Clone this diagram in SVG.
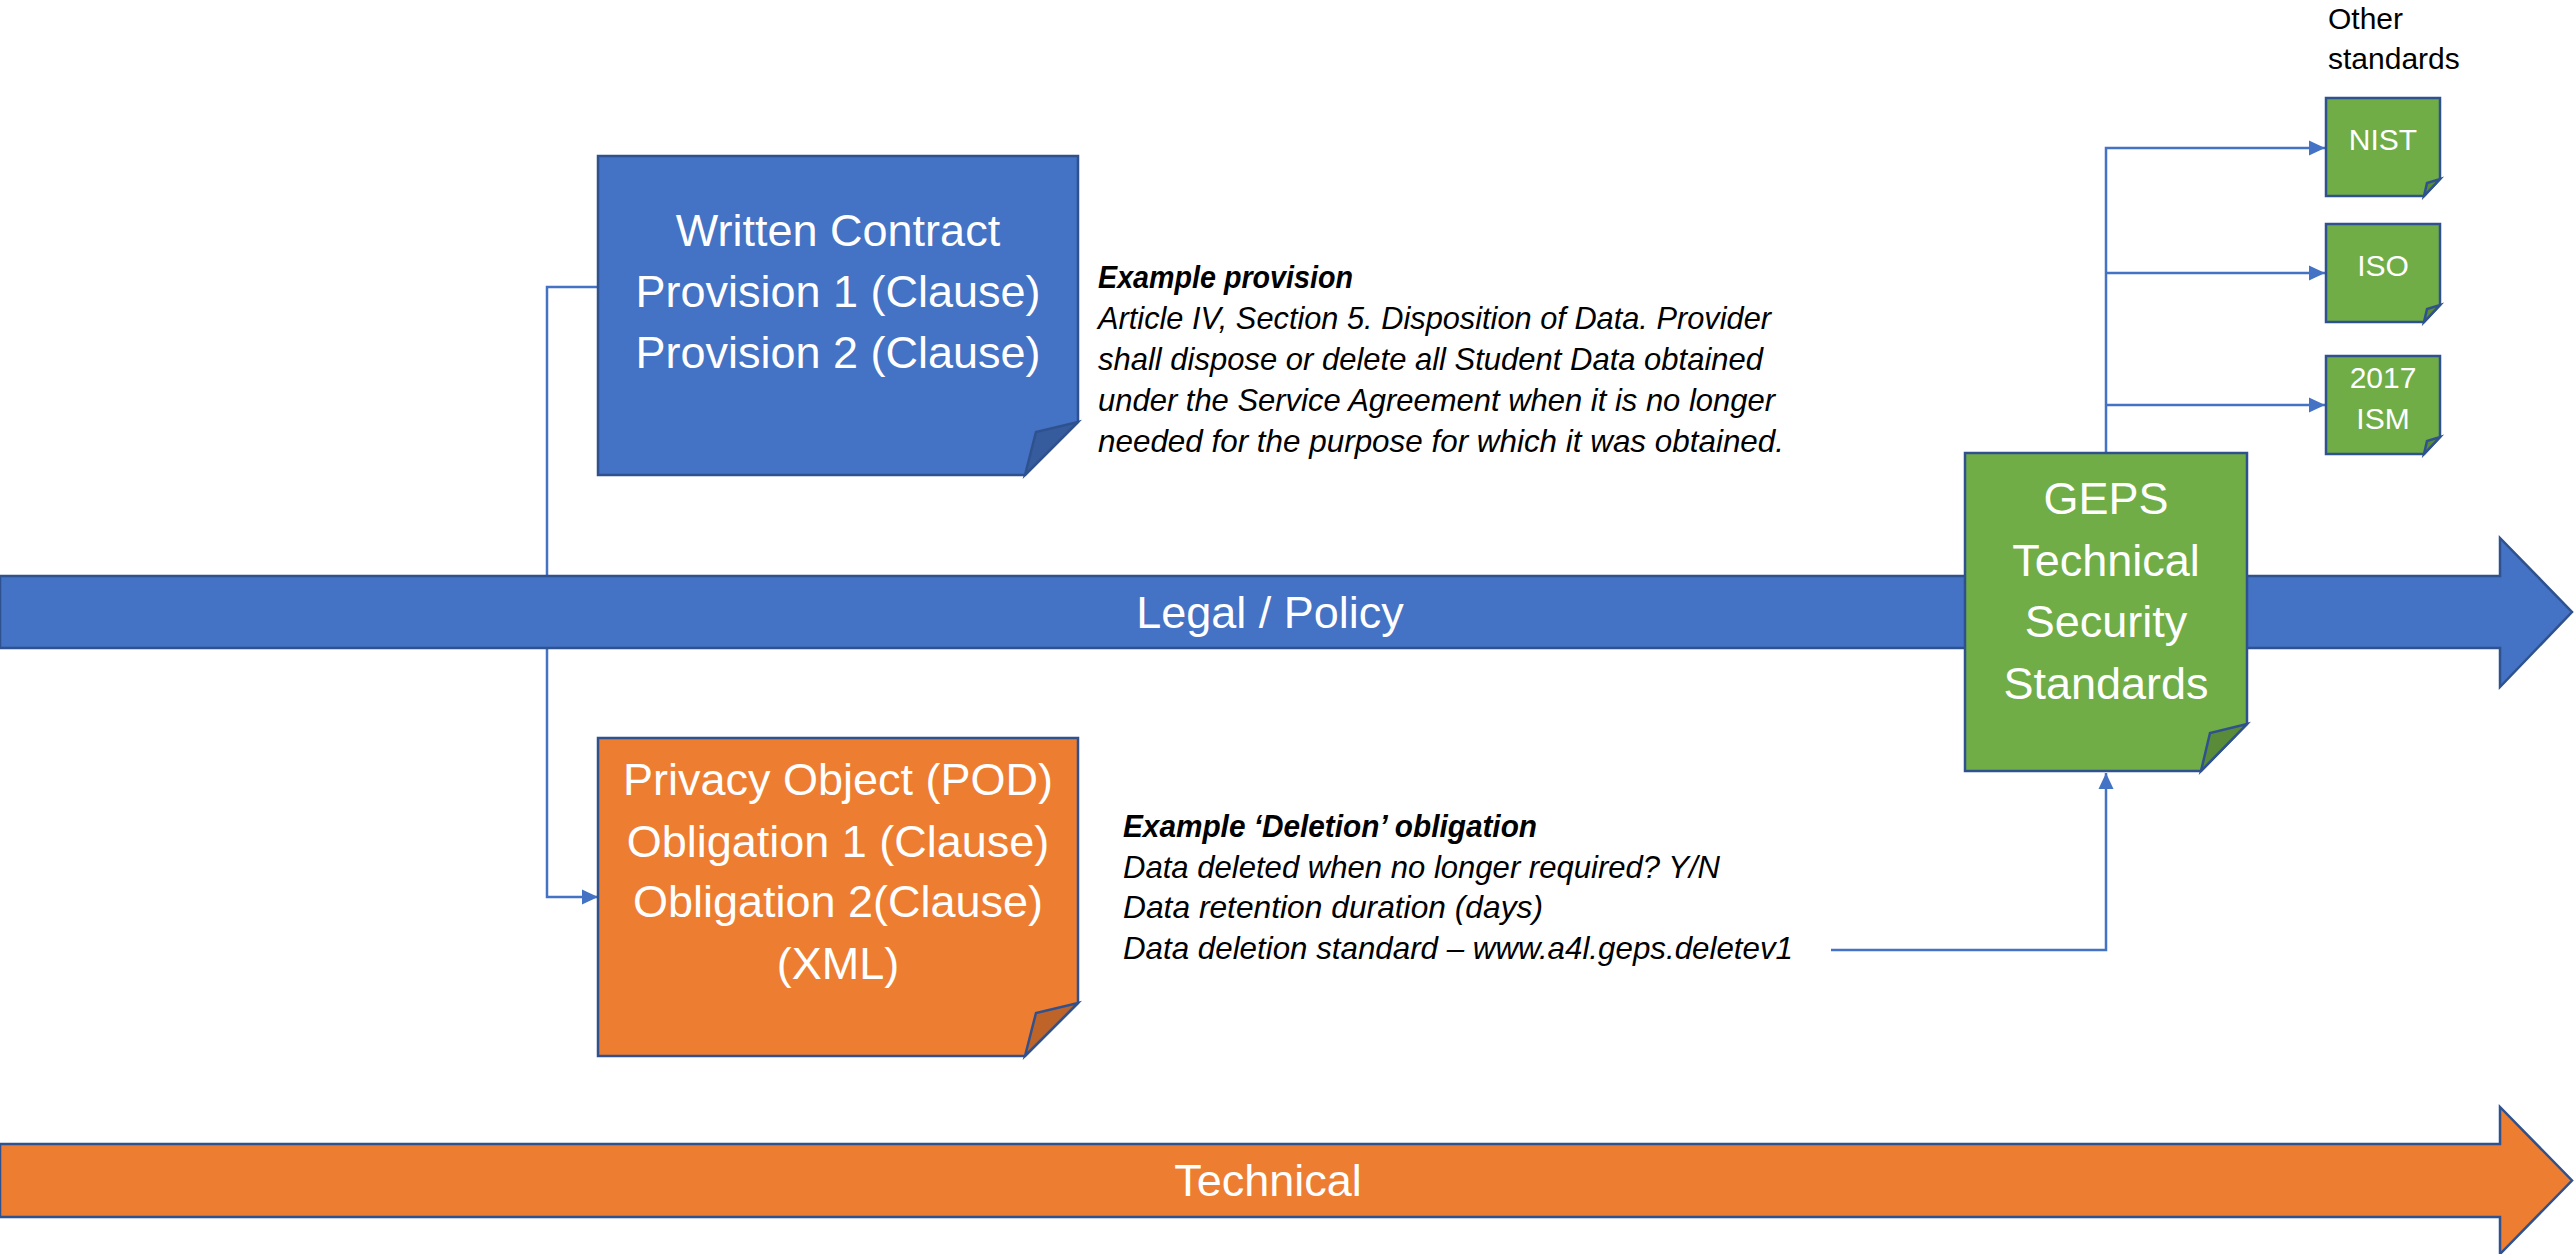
<svg xmlns="http://www.w3.org/2000/svg" width="2574" height="1254" viewBox="0 0 2574 1254">
<style>
.bar{stroke:#2F528F;stroke-width:2.5}
.box{stroke:#2F528F;stroke-width:2.5;stroke-linejoin:miter}
.fold{stroke:#2F528F;stroke-width:2.5;stroke-linejoin:miter}
.conn{fill:none;stroke:#4472C4;stroke-width:2.5}
.big{font-family:"Liberation Sans",Arial,sans-serif;font-size:45px;fill:#fff;text-anchor:middle}
.small{font-family:"Liberation Sans",Arial,sans-serif;font-size:30px;fill:#fff;text-anchor:middle}
.note{font-family:"Liberation Sans",Arial,sans-serif;font-size:31.5px;fill:#000;font-style:italic}
.noteb{font-weight:bold}
.lbl{font-family:"Liberation Sans",Arial,sans-serif;font-size:30px;fill:#000}
</style>
<defs>
<marker id="arr" markerUnits="userSpaceOnUse" markerWidth="17" markerHeight="16" viewBox="0 0 17 16" refX="16" refY="8" orient="auto">
<path d="M0,0.5 L16,8 L0,15.5 Z" fill="#4472C4"/>
</marker>
</defs>
<rect width="2574" height="1254" fill="#fff"/>

<g id="connectors">
<path class="conn" d="M598,287 H547 V897 H598" marker-end="url(#arr)"/>
<path class="conn" d="M1831,950 H2106 V773" marker-end="url(#arr)"/>
<path class="conn" d="M2106,453 V148 H2325" marker-end="url(#arr)"/>
<path class="conn" d="M2106,273 H2325" marker-end="url(#arr)"/>
<path class="conn" d="M2106,405 H2325" marker-end="url(#arr)"/>
</g>

<g id="legal-bar">
<path class="bar" fill="#4472C4" d="M0,576 H2500 V538 L2572,612 L2500,687 V648 H0 Z"/>
<text class="big" x="1270" y="628">Legal / Policy</text>
</g>

<g id="technical-bar">
<path class="bar" fill="#ED7D31" d="M0,1144 H2500 V1107 L2572,1180.5 L2500,1254 V1217 H0 Z"/>
<text class="big" x="1268" y="1196">Technical</text>
</g>

<g id="written-contract">
<path class="box" fill="#4472C4" d="M598,156 H1078 V422 L1025,475 H598 Z"/>
<path class="fold" fill="#365C9E" d="M1025,475 L1036,432 L1078,422 Z"/>
<text class="big" x="838" y="246">Written Contract</text>
<text class="big" x="838" y="307">Provision 1 (Clause)</text>
<text class="big" x="838" y="368">Provision 2 (Clause)</text>
</g>

<g id="privacy-object">
<path class="box" fill="#ED7D31" d="M598,738 H1078 V1003 L1025,1056 H598 Z"/>
<path class="fold" fill="#BF6429" d="M1025,1056 L1036,1013 L1078,1003 Z"/>
<text class="big" x="838" y="795">Privacy Object (POD)</text>
<text class="big" x="838" y="857">Obligation 1 (Clause)</text>
<text class="big" x="838" y="917">Obligation 2(Clause)</text>
<text class="big" x="838" y="979">(XML)</text>
</g>

<g id="geps">
<path class="box" fill="#70AD47" d="M1965,453 H2247 V724 L2201,771 H1965 Z"/>
<path class="fold" fill="#5A8B39" d="M2201,771 L2210,733 L2247,724 Z"/>
<text class="big" x="2106" y="514">GEPS</text>
<text class="big" x="2106" y="576">Technical</text>
<text class="big" x="2106" y="637">Security</text>
<text class="big" x="2106" y="699">Standards</text>
</g>

<g id="other-standards-label">
<text class="lbl" x="2328" y="29">Other</text>
<text class="lbl" x="2328" y="69">standards</text>
</g>

<g id="nist">
<path class="box" fill="#70AD47" d="M2326,98 H2440 V179 L2424,196 H2326 Z"/>
<path class="fold" fill="#5A8B39" d="M2424,196 L2427,183 L2440,179 Z"/>
<text class="small" x="2383" y="150">NIST</text>
</g>

<g id="iso">
<path class="box" fill="#70AD47" d="M2326,224 H2440 V305 L2424,322 H2326 Z"/>
<path class="fold" fill="#5A8B39" d="M2424,322 L2427,309 L2440,305 Z"/>
<text class="small" x="2383" y="276">ISO</text>
</g>

<g id="ism">
<path class="box" fill="#70AD47" d="M2326,356 H2440 V437 L2424,454 H2326 Z"/>
<path class="fold" fill="#5A8B39" d="M2424,454 L2427,441 L2440,437 Z"/>
<text class="small" x="2383" y="388">2017</text>
<text class="small" x="2383" y="429">ISM</text>
</g>

<g id="example-provision">
<text class="note noteb" x="1098" y="288" textLength="255" lengthAdjust="spacingAndGlyphs">Example provision</text>
<text class="note" x="1098" y="329" textLength="673" lengthAdjust="spacingAndGlyphs">Article IV, Section 5. Disposition of Data. Provider</text>
<text class="note" x="1098" y="370" textLength="665" lengthAdjust="spacingAndGlyphs">shall dispose or delete all Student Data obtained</text>
<text class="note" x="1098" y="411" textLength="677" lengthAdjust="spacingAndGlyphs">under the Service Agreement when it is no longer</text>
<text class="note" x="1098" y="452" textLength="686" lengthAdjust="spacingAndGlyphs">needed for the purpose for which it was obtained.</text>
</g>

<g id="example-deletion">
<text class="note noteb" x="1123" y="837" textLength="414" lengthAdjust="spacingAndGlyphs">Example ‘Deletion’ obligation</text>
<text class="note" x="1123" y="878" textLength="597" lengthAdjust="spacingAndGlyphs">Data deleted when no longer required? Y/N</text>
<text class="note" x="1123" y="918" textLength="420" lengthAdjust="spacingAndGlyphs">Data retention duration (days)</text>
<text class="note" x="1123" y="959" textLength="670" lengthAdjust="spacingAndGlyphs">Data deletion standard – www.a4l.geps.deletev1</text>
</g>
</svg>
